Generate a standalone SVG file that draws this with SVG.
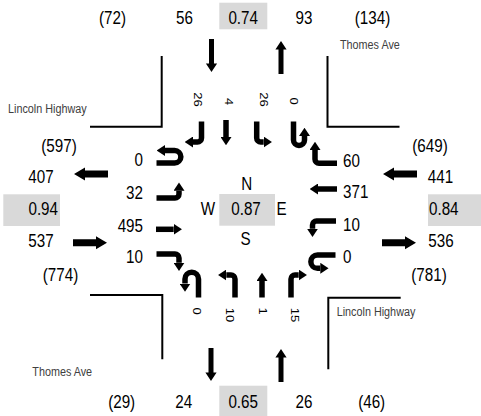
<svg xmlns="http://www.w3.org/2000/svg" width="481" height="416" viewBox="0 0 481 416">
  <style>
    .num { font-family: "Liberation Sans", Arial, sans-serif; font-size: 19px; fill: #000; }
    .lbl { font-family: "Liberation Sans", Arial, sans-serif; font-size: 13px; fill: #000; }
    .street { font-family: "Liberation Sans", Arial, sans-serif; font-size: 13.5px; fill: #404040; }
    .c { text-anchor: middle; }
    .e { text-anchor: end; }
    .box { fill: #d9d9d9; }
    .curb { fill: none; stroke: #000; stroke-width: 2; }
    .turn { fill: none; stroke: #000; stroke-width: 5.5; marker-end: url(#head); }
    .big { fill: #000; }
  </style>
  <defs>
    <marker id="head" viewBox="0 0 8.25 11" refX="0" refY="5.5" markerWidth="1.5" markerHeight="2" orient="auto" markerUnits="strokeWidth">
      <path d="M0,0 L8.25,5.5 L0,11 Z" fill="#000"/>
    </marker>
    <!-- large approach arrows: horizontal points right, vertical points down -->
    <path id="bigH" d="M0,-3.5 H23 V-6.5 L34,0 L23,6.5 V3.5 H0 Z"/>
    <path id="bigV" d="M-2.5,0 V24.5 H-5.6 L0,33 L5.6,24.5 H2.5 V0 Z"/>
  </defs>

  <!-- curb lines of the four corners -->
  <g id="curbs">
    <path class="curb" d="M90,126.7 H161.7 V56"/>
    <path class="curb" d="M327.5,56 V126.7 H399.5"/>
    <path class="curb" d="M90,295 H162.3 V359.3"/>
    <path class="curb" d="M400.7,297.7 H328.3 V369.3"/>
  </g>

  <!-- grey factor boxes -->
  <g id="boxes">
    <rect class="box" x="219.3" y="2.7" width="48" height="26.6"/>
    <rect class="box" x="3.3" y="194.3" width="56.7" height="31.7"/>
    <rect class="box" x="219.3" y="194" width="55.7" height="31.7"/>
    <rect class="box" x="428" y="194.3" width="53" height="31.7"/>
    <rect class="box" x="219.3" y="385.7" width="48" height="30.3"/>
  </g>

  <!-- approach and departure arrows plus turning movements -->
  <g id="connectors">
    <g class="big">
      <use href="#bigV" transform="translate(211.5,39)"/>
      <use href="#bigV" transform="translate(281,74) scale(1,-1)"/>
      <use href="#bigV" transform="translate(211,348)"/>
      <use href="#bigV" transform="translate(281,382) scale(1,-1)"/>
      <use href="#bigH" transform="translate(108,174) scale(-1,1)"/>
      <use href="#bigH" transform="translate(73,242.7)"/>
      <use href="#bigH" transform="translate(417,174) scale(-1,1)"/>
      <use href="#bigH" transform="translate(382,242.7)"/>
    </g>
    <!-- southbound -->
    <path class="turn" d="M201.5,121.5 V138 A4,4 0 0 1 197.5,142 H193"/>
    <path class="turn" d="M226,120 V137"/>
    <path class="turn" d="M256.7,121.5 V138 A4,4 0 0 0 260.7,142 H263.7"/>
    <path class="turn" d="M293.5,121.5 V140 A5.5,5.5 0 0 0 304.5,140 V136"/>
    <!-- northbound -->
    <path class="turn" d="M198.5,297.5 V279 A6.7,6.7 0 0 0 185,279 V283.5"/>
    <path class="turn" d="M235,297.5 V279 A4,4 0 0 0 231,275 H226.3"/>
    <path class="turn" d="M262,297.5 V281"/>
    <path class="turn" d="M291,297.5 V279 A4,4 0 0 1 295,275 H298.7"/>
    <!-- eastbound -->
    <path class="turn" d="M156.5,163 H174.6 A6.25,6.25 0 0 0 174.6,150.5 H165"/>
    <path class="turn" d="M156.5,198 H175 A4,4 0 0 0 179,194 V190.7"/>
    <path class="turn" d="M156,229.3 H173.7"/>
    <path class="turn" d="M156.5,254 H175 A4,4 0 0 1 179,258 V262.7"/>
    <!-- westbound -->
    <path class="turn" d="M337,163.3 H319 A4,4 0 0 1 315,159.3 V150"/>
    <path class="turn" d="M337,189 H318"/>
    <path class="turn" d="M336,221 H316.5 A4,4 0 0 0 312.5,225 V228.7"/>
    <path class="turn" d="M335.5,255 H317.5 A6.65,6.65 0 0 0 317.5,268.3 H320.3"/>
  </g>

  <!-- all text is set in a horizontally condensed frame -->
  <g transform="scale(0.8 1)">
    <g id="north">
      <text class="num c" x="140.6" y="24">(72)</text>
      <text class="num c" x="230.6" y="24">56</text>
      <text class="num c" x="304" y="24">0.74</text>
      <text class="num c" x="380" y="24">93</text>
      <text class="num c" x="465.6" y="24">(134)</text>
      <text class="lbl c" transform="translate(242.9,99.5) rotate(90)">26</text>
      <text class="lbl c" transform="translate(281.6,101.5) rotate(90)">4</text>
      <text class="lbl c" transform="translate(325.4,99.5) rotate(90)">26</text>
      <text class="lbl c" transform="translate(362.9,101) rotate(90)">0</text>
    </g>
    <g id="west">
      <text class="num c" x="73.75" y="152">(597)</text>
      <text class="num c" x="51.25" y="183">407</text>
      <text class="num e" x="72.5" y="215">0.94</text>
      <text class="num c" x="51.25" y="247">537</text>
      <text class="num c" x="75.6" y="281">(774)</text>
      <text class="num e" x="178.75" y="166.5">0</text>
      <text class="num e" x="178.75" y="199">32</text>
      <text class="num e" x="178.75" y="232">495</text>
      <text class="num e" x="178.75" y="263">10</text>
    </g>
    <g id="east">
      <text class="num c" x="537.5" y="152">(649)</text>
      <text class="num c" x="550.6" y="183">441</text>
      <text class="num" x="536.25" y="215">0.84</text>
      <text class="num c" x="551.25" y="247">536</text>
      <text class="num c" x="536.25" y="281">(781)</text>
      <text class="num" x="428.75" y="167">60</text>
      <text class="num" x="428.75" y="198">371</text>
      <text class="num" x="428.75" y="231">10</text>
      <text class="num" x="428.75" y="263">0</text>
    </g>
    <g id="center">
      <text class="num c" x="308.4" y="190">N</text>
      <text class="num c" x="260" y="215">W</text>
      <text class="num c" x="307.5" y="215">0.87</text>
      <text class="num c" x="351.9" y="215">E</text>
      <text class="num c" x="307.1" y="245">S</text>
    </g>
    <g id="south">
      <text class="num c" x="152.1" y="408">(29)</text>
      <text class="num c" x="229.6" y="408">24</text>
      <text class="num c" x="304" y="408">0.65</text>
      <text class="num c" x="380" y="408">26</text>
      <text class="num c" x="464.6" y="408">(46)</text>
      <text class="lbl c" transform="translate(241.6,311) rotate(90)">0</text>
      <text class="lbl c" transform="translate(282.9,315) rotate(90)">10</text>
      <text class="lbl c" transform="translate(323.5,311) rotate(90)">1</text>
      <text class="lbl c" transform="translate(364.1,315) rotate(90)">15</text>
    </g>
    <g id="streets">
      <text class="street" x="10" y="112.7">Lincoln Highway</text>
      <text class="street" x="425" y="49">Thomes Ave</text>
      <text class="street" x="420.9" y="316">Lincoln Highway</text>
      <text class="street" x="40.4" y="376">Thomes Ave</text>
    </g>
  </g>
</svg>
